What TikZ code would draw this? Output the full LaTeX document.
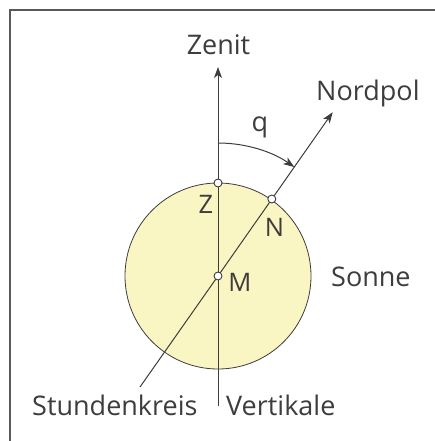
\documentclass[tikz,border=0pt]{standalone}
\usepackage{fontspec}
\setmainfont{Open Sans}
\usetikzlibrary{arrows.meta}
\definecolor{sun}{RGB}{250,246,196}
\definecolor{ink}{RGB}{62,60,60}
\definecolor{framec}{RGB}{90,88,88}
\tikzset{
  lbl/.style={inner sep=0pt, text=ink, font=\fontsize{27}{29}\selectfont},
  plbl/.style={inner sep=0pt, text=ink, font=\fontsize{25.5}{27}\selectfont},
  ln/.style={draw=ink, line width=1pt},
  arr/.style={ln, -{Stealth[length=11pt,width=8pt,inset=3pt]}},
  pt/.style={circle, draw=ink, fill=white, line width=0.9pt, minimum size=8pt, inner sep=0pt},
}
\begin{document}
\begin{tikzpicture}[x=1pt,y=1pt]
\useasboundingbox (0,0) rectangle (435,441);
% frame
\draw[framec, line width=1.6pt] (10,0) -- (10,431) -- (435,431);
% sun
\coordinate (M) at (218,165);
\fill[sun] (M) circle (93);
\draw[ink, line width=0.8pt] (M) circle (93);
% lines
\coordinate (vbot) at (218,35);
\coordinate (vtop) at (218,374);
\coordinate (sbot) at (140,54);
\coordinate (stop) at (332.7,328.8);
\draw[ln] (vbot) -- (M);
\draw[arr] (M) -- (vtop);
\draw[ln] (sbot) -- (M);
\draw[arr] (M) -- (stop);
% arc q
\draw[arr] (218,298) arc[start angle=90, end angle=55, radius=133];
% points
\node[pt] (Zp) at (218,258) {};
\node[pt] (Np) at (271.8,242) {};
\node[pt] (Mp) at (M) {};
% labels
\node[lbl, anchor=base] (zenit) at (218.5,386) {Zenit};
\node[lbl, anchor=base] (q) at (260,309) {q};
\node[lbl, anchor=base west] (nordpol) at (316,340) {Nordpol};
\node[plbl, anchor=base] (Z) at (206,227.7) {Z};
\node[plbl, anchor=base] (N) at (274.5,204.3) {N};
\node[plbl, anchor=base] (Ml) at (240,149.3) {M};
\node[lbl, anchor=base west] (sonne) at (331,154) {Sonne};
\node[lbl, anchor=base west] (stunden) at (32,25.3) {Stundenkreis};
\node[lbl, anchor=base west] (vert) at (226,25.3) {Vertikale};
\end{tikzpicture}
\end{document}
